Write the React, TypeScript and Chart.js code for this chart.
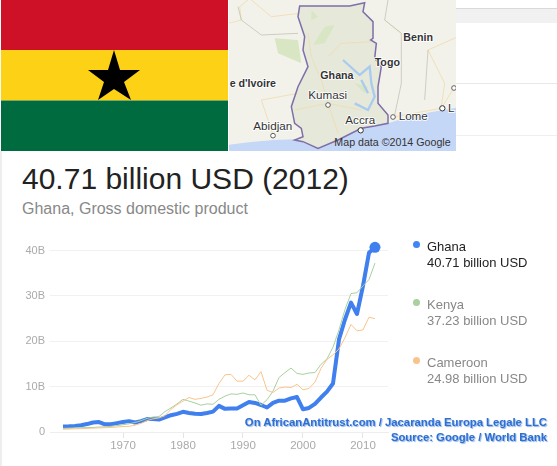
import React, { useEffect, useRef } from "react";
import { Chart, registerables } from "chart.js";

Chart.register(...registerables);

const years = [1960,1961,1962,1963,1964,1965,1966,1967,1968,1969,1970,1971,1972,1973,1974,1975,1976,1977,1978,1979,1980,1981,1982,1983,1984,1985,1986,1987,1988,1989,1990,1991,1992,1993,1994,1995,1996,1997,1998,1999,2000,2001,2002,2003,2004,2005,2006,2007,2008,2009,2010,2011,2012];
const ghana = [1.2,1.25,1.35,1.5,1.75,2.1,2.2,1.7,1.7,1.95,2.2,2.4,2.1,2.4,2.85,2.85,2.75,3.2,3.7,4.0,4.45,4.2,4.0,3.95,4.2,4.5,5.75,5.1,5.2,5.2,5.9,6.6,6.4,5.95,5.4,6.4,6.9,6.9,7.4,7.7,5.0,5.3,6.2,7.6,8.9,10.7,20.4,24.8,28.5,26.0,32.2,39.5,40.71];
const kenya = [0.8,0.85,0.9,0.93,0.98,1.0,1.1,1.15,1.25,1.4,1.6,1.8,2.1,2.5,3.0,3.3,3.4,4.5,5.3,6.2,7.2,6.8,6.4,5.9,6.2,6.1,7.2,7.9,8.4,8.3,8.6,8.2,8.2,5.9,7.1,9.0,12.0,13.1,14.1,12.9,12.7,13.0,13.1,14.9,16.1,18.7,22.5,27.0,30.5,30.7,32.2,33.6,37.23];
const cameroon = [0.6,0.65,0.7,0.75,0.8,0.85,0.9,0.95,1.0,1.1,1.2,1.25,1.5,1.9,2.5,2.9,3.1,3.6,5.0,6.0,6.8,7.6,7.2,7.4,7.7,8.2,10.7,12.6,12.7,11.2,11.2,12.5,11.5,13.3,9.2,8.7,9.7,9.9,9.8,10.5,9.3,9.6,11.0,14.0,16.0,17.0,18.3,20.8,23.7,22.3,22.5,25.3,24.98];
const xTicks = [1970, 1980, 1990, 2000, 2010];
const yTicks = [0, 10, 20, 30, 40];
const yTickLabels = ["0", "10B", "20B", "30B", "40B"];

const legendItems = [
  { name: "Ghana", value: "40.71 billion USD", dot: "#4285f4", color: "#222", top: 239 },
  { name: "Kenya", value: "37.23 billion USD", dot: "#a9d09e", color: "#888", top: 297 },
  { name: "Cameroon", value: "24.98 billion USD", dot: "#f9c48c", color: "#888", top: 355 },
];

const FONT = '"Liberation Sans", Arial, sans-serif';

const toPairs = (ys: number[]) => ys.map((y, i) => ({ x: years[i], y }));

function MapPanel() {
  const ghanaOutline = "215,18 365,18 410,8 405,35 435,65 435,115 428,120 445,130 440,175 460,200 450,260 450,310 480,345 480,370 440,378 400,385 330,420 270,445 225,425 200,420 225,410 220,385 200,370 190,320 210,260 240,200 225,150 230,110 210,50";
  const roads = [
    "M0,70 L40,60 L35,20 L60,0",
    "M70,0 L130,50 L215,40",
    "M240,100 L250,170 L280,240 L300,310 L330,400",
    "M300,170 L340,130 L430,125",
    "M300,310 L200,330 M300,310 L400,330",
    "M135,405 L100,300 L210,280",
    "M600,150 L650,250 L640,320",
    "M600,150 L690,110 M520,100 L470,60",
    "M500,350 L640,325 L680,260",
  ];
  const label = { fontFamily: FONT, fontSize: 35, fill: "#333" };
  const bold = { fontFamily: FONT, fontSize: 32, fontWeight: 700, fill: "#333", stroke: "#fff", strokeWidth: 5, paintOrder: "stroke" as const };
  const halo = { ...label, stroke: "#fff", strokeWidth: 5, paintOrder: "stroke" as const };
  return (
    <svg viewBox="3 0 681 453" width={227} height={151} style={{ position: "absolute", left: 229, top: 0, display: "block" }}>
      <rect width="690" height="453" fill="#f2f2ea" />
      <path d="M0,435 Q100,420 200,418 L270,445 L400,385 L480,370 L560,345 L690,322 L690,453 L0,453 Z" fill="#c5d7f7" />
      <polygon points={ghanaOutline} fill="#e6e8da" />
      <path d="M250,30 L270,50 L250,60 Z M290,80 L320,75 L290,130 L255,135 Z M140,115 L210,120 L220,190 L150,160 Z M380,250 L420,260 L410,280 Z" fill="#d8e6c4" />
      {roads.map((d, i) => <path key={i} d={d} fill="none" stroke="#eedcae" strokeWidth="2.5" />)}
      <path d="M480,0 L470,60 L520,100 L520,250 L500,345 M600,150 L590,300 M30,20 L40,60 L100,105 L210,100" fill="none" stroke="#b9b9b2" strokeWidth="2" />
      <path d="M345,180 L395,225 L425,200 L430,250 L440,290 L420,330 L380,310 M400,240 L420,280" fill="none" stroke="#a9cbf0" strokeWidth="7" />
      <polygon points={ghanaOutline} fill="none" stroke="#7f6fa9" strokeWidth="4.5" />
      <circle cx="300" cy="315" r="7" fill="#fff" stroke="#444" strokeWidth="2.5" />
      <circle cx="398" cy="391" r="8" fill="#fff" stroke="#333" strokeWidth="3" />
      <circle cx="135" cy="407" r="7" fill="#fff" stroke="#444" strokeWidth="2.5" />
      <circle cx="495" cy="351" r="7" fill="#fff" stroke="#444" strokeWidth="2.5" />
      <circle cx="643" cy="325" r="8" fill="#fff" stroke="#333" strokeWidth="3" />
      <circle cx="678" cy="264" r="7" fill="#fff" stroke="#444" strokeWidth="2.5" />
      <text x="526" y="122" style={bold}>Benin</text>
      <text x="440" y="197" style={bold}>Togo</text>
      <text x="277" y="237" style={bold}>Ghana</text>
      <text x="5" y="260" style={bold}>e d'Ivoire</text>
      <text x="241" y="296" style={halo}>Kumasi</text>
      <text x="76" y="389" style={halo}>Abidjan</text>
      <text x="352" y="373" style={halo}>Accra</text>
      <text x="512" y="361" style={halo}>Lome</text>
      <text x="660" y="335" style={halo}>L</text>
      <text x="319" y="438" style={{ fontFamily: FONT, fontSize: 32, fill: "#333" }}>Map data ©2014 Google</text>
    </svg>
  );
}

function Flag() {
  return (
    <svg width={228} height={151} style={{ position: "absolute", left: 0, top: 0, display: "block" }}>
      <rect x="1" y="0" width="227" height="50" fill="#ce1126" />
      <rect x="1" y="50" width="227" height="50.5" fill="#fcd116" />
      <rect x="1" y="100.5" width="227" height="50.5" fill="#006b3f" />
      <polygon points="114,50 120,70 140,70 124,82 131,100 114,89 98,100 104,82 88,70 108,70" fill="#000" />
    </svg>
  );
}

export default function App() {
  const ref = useRef<HTMLCanvasElement | null>(null);

  useEffect(() => {
    if (!ref.current) return;
    const lastRadius = (n: number, r: number) => years.map((_, i) => (i === n - 1 ? r : 0));
    const chart = new Chart(ref.current, {
      type: "line",
      data: {
        datasets: [
          { label: "Cameroon", data: toPairs(cameroon), borderColor: "#f9c48c", borderWidth: 1, pointRadius: 0, tension: 0, clip: false },
          { label: "Kenya", data: toPairs(kenya), borderColor: "#a9d09e", borderWidth: 1, pointRadius: 0, tension: 0, clip: false },
          { label: "Ghana", data: toPairs(ghana), borderColor: "#3f7fee", backgroundColor: "#3f7fee", borderWidth: 4, pointRadius: lastRadius(years.length, 5.5), pointBackgroundColor: "#3f7fee", pointBorderWidth: 0, tension: 0, clip: false, borderJoinStyle: "round" as const },
        ],
      },
      options: {
        animation: false,
        responsive: false,
        layout: { padding: { left: 0, right: 169, top: 250.5, bottom: 0 } },
        plugins: { legend: { display: false }, tooltip: { enabled: false } },
        scales: {
          x: {
            type: "linear",
            min: 1957.83,
            max: 2014.17,
            afterBuildTicks: (axis: any) => { axis.ticks = xTicks.map((value) => ({ value })); },
            afterFit: (axis: any) => { axis.height = 34; },
            grid: { drawOnChartArea: false, drawTicks: true, tickLength: 6, color: "#e4e4e4" },
            border: { display: true, color: "#eeeeee" },
            ticks: { color: "#aaaaaa", font: { family: FONT, size: 11.5 }, maxRotation: 0, autoSkip: false, padding: 1, callback: (v: any) => String(v) },
          },
          y: {
            min: 0,
            max: 40,
            afterBuildTicks: (axis: any) => { axis.ticks = yTicks.map((value) => ({ value })); },
            afterFit: (axis: any) => { axis.width = 50; },
            grid: { drawTicks: false, color: "#f1f1f1" },
            border: { display: false },
            ticks: { color: "#aaaaaa", font: { family: FONT, size: 11 }, padding: 5, callback: (v: any) => yTickLabels[yTicks.indexOf(Number(v))] ?? "" },
          },
        },
      },
    } as any);
    return () => chart.destroy();
  }, []);

  return (
    <div style={{ position: "absolute", left: 0, top: 0, width: 557, height: 466, background: "#fff", overflow: "hidden", fontFamily: FONT }}>
      <div style={{ position: "absolute", left: 0, top: 151, width: 1.5, height: 315, background: "#eeeeee" }} />
      <div style={{ position: "absolute", left: 456, top: 8, width: 101, height: 1, background: "#d9d9d9" }} />
      <div style={{ position: "absolute", left: 456, top: 9, width: 101, height: 14, background: "#f1f1f1" }} />
      <div style={{ position: "absolute", left: 456, top: 83, width: 101, height: 1, background: "#e8e8e8" }} />
      <div style={{ position: "absolute", left: 456, top: 135, width: 101, height: 1, background: "#efefef" }} />
      <Flag />
      <MapPanel />
      <div style={{ position: "absolute", left: 22, top: 162, fontSize: 30, lineHeight: "34px", color: "#222", whiteSpace: "nowrap" }}>40.71 billion USD (2012)</div>
      <div style={{ position: "absolute", left: 22, top: 200, fontSize: 16, lineHeight: "18px", color: "#888", whiteSpace: "nowrap" }}>Ghana, Gross domestic product</div>
      <canvas ref={ref} width={557} height={466} style={{ position: "absolute", left: 0, top: 0, width: 557, height: 466 }} />
      {legendItems.map((it) => (
        <div key={it.name} style={{ position: "absolute", left: 427, top: it.top, fontSize: 13, lineHeight: "16px", color: it.color, whiteSpace: "nowrap" }}>
          <span style={{ position: "absolute", left: -14, top: 2, width: 7, height: 7, borderRadius: "50%", background: it.dot }} />
          <div>{it.name}</div>
          <div>{it.value}</div>
        </div>
      ))}
      <div style={{ position: "absolute", right: 10, top: 415, textAlign: "right", fontSize: 11.3, lineHeight: "15px", fontWeight: 700, color: "#2f6fd0", textShadow: "1px 1px 1px #8fb4ea", whiteSpace: "nowrap" }}>
        <div>On AfricanAntitrust.com / Jacaranda Europa Legale LLC</div>
        <div>Source: Google / World Bank</div>
      </div>
    </div>
  );
}
